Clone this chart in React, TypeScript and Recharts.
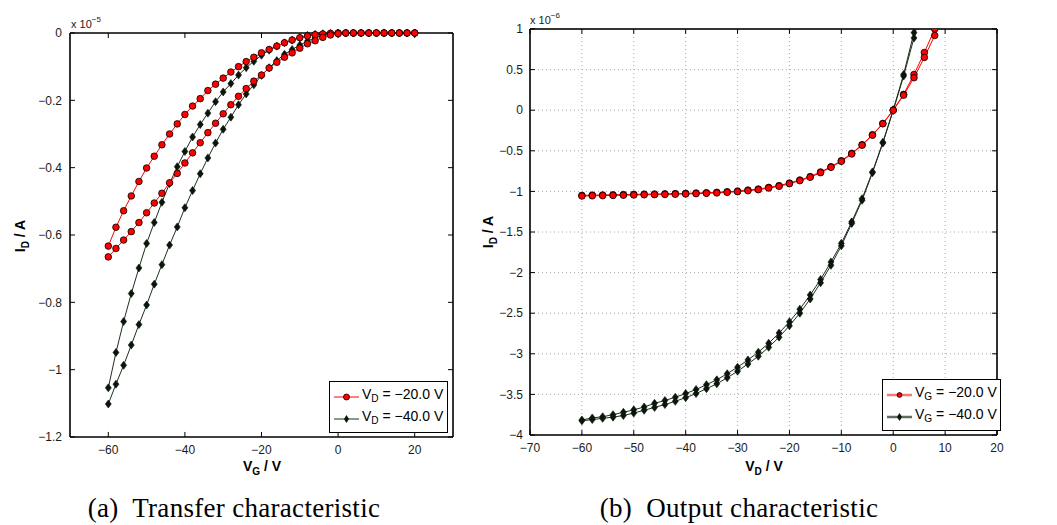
import React from 'react';
import { LineChart, Line, XAxis, YAxis, CartesianGrid, ReferenceLine } from 'recharts';

// (a) transfer characteristic, I_D in units of 1e-5 A, sweep -60 -> 20 -> -60
const vgSweep = [-60, -58, -56, -54, -52, -50, -48, -46, -44, -42, -40, -38, -36, -34, -32, -30, -28, -26, -24, -22, -20, -18, -16, -14, -12, -10, -8, -6, -4, -2, 0, 2, 4, 6, 8, 10, 12, 14, 16, 18, 20];
const transferRedUp = [-0.633, -0.577, -0.528, -0.484, -0.441, -0.401, -0.366, -0.332, -0.3, -0.27, -0.242, -0.217, -0.195, -0.171, -0.152, -0.134, -0.116, -0.1, -0.085, -0.072, -0.059, -0.049, -0.039, -0.029, -0.021, -0.014, -0.009, -0.005, -0.003, -0.001, 0, 0, 0, 0, 0, 0, 0, 0, 0, 0, 0];
const transferRedDown = [-0.665, -0.64, -0.615, -0.59, -0.563, -0.534, -0.505, -0.476, -0.445, -0.417, -0.386, -0.356, -0.326, -0.296, -0.268, -0.24, -0.213, -0.188, -0.165, -0.143, -0.125, -0.104, -0.087, -0.072, -0.059, -0.045, -0.032, -0.023, -0.013, -0.006, -0.002, 0, 0, 0, 0, 0, 0, 0, 0, 0, 0];
const transferBlackUp = [-1.054, -0.949, -0.857, -0.774, -0.698, -0.625, -0.563, -0.503, -0.447, -0.397, -0.352, -0.309, -0.272, -0.238, -0.204, -0.175, -0.15, -0.125, -0.103, -0.084, -0.066, -0.051, -0.039, -0.029, -0.021, -0.014, -0.007, -0.004, -0.002, -0.001, 0, 0, 0, 0, 0, 0, 0, 0, 0, 0, 0];
const transferBlackDown = [-1.102, -1.043, -0.987, -0.927, -0.866, -0.808, -0.746, -0.688, -0.63, -0.576, -0.519, -0.468, -0.418, -0.371, -0.327, -0.286, -0.25, -0.213, -0.181, -0.154, -0.126, -0.103, -0.082, -0.063, -0.049, -0.036, -0.024, -0.014, -0.007, -0.003, -0.001, 0, 0, 0, 0, 0, 0, 0, 0, 0, 0];
const transferXDomain = [-70, 30];
const transferYDomain = [-1.2, 0];
const transferXTicks = [-60, -40, -20, 0, 20];
const transferYTicks = [-1.2, -1, -0.8, -0.6, -0.4, -0.2, 0];

// (b) output characteristic, I_D in units of 1e-6 A
const vdSweepRed = [-60, -58, -56, -54, -52, -50, -48, -46, -44, -42, -40, -38, -36, -34, -32, -30, -28, -26, -24, -22, -20, -18, -16, -14, -12, -10, -8, -6, -4, -2, 0, 2, 4, 6, 8, 10];
const outputRedUp = [-1.049, -1.046, -1.044, -1.042, -1.039, -1.036, -1.034, -1.032, -1.03, -1.027, -1.024, -1.02, -1.016, -1.011, -1.004, -0.996, -0.984, -0.971, -0.951, -0.929, -0.897, -0.86, -0.818, -0.761, -0.696, -0.622, -0.531, -0.425, -0.302, -0.163, 0.002, 0.195, 0.44, 0.71, 1.0, 1.32];
const outputRedDown = [-1.057, -1.054, -1.052, -1.05, -1.047, -1.044, -1.042, -1.04, -1.038, -1.035, -1.032, -1.028, -1.024, -1.019, -1.012, -1.004, -0.992, -0.979, -0.959, -0.937, -0.905, -0.868, -0.826, -0.769, -0.704, -0.63, -0.539, -0.431, -0.308, -0.167, -0.002, 0.185, 0.4, 0.65, 0.92, 1.2];
const vdSweepBlack = [-60, -58, -56, -54, -52, -50, -48, -46, -44, -42, -40, -38, -36, -34, -32, -30, -28, -26, -24, -22, -20, -18, -16, -14, -12, -10, -8, -6, -4, -2, 0, 2, 4, 6];
const outputBlackUp = [-3.815, -3.79, -3.775, -3.75, -3.72, -3.69, -3.655, -3.61, -3.575, -3.535, -3.49, -3.44, -3.38, -3.32, -3.245, -3.165, -3.075, -2.98, -2.87, -2.745, -2.605, -2.45, -2.275, -2.085, -1.87, -1.64, -1.375, -1.09, -0.76, -0.395, 0.005, 0.44, 0.955, 1.48];
const outputBlackDown = [-3.825, -3.81, -3.795, -3.78, -3.76, -3.73, -3.695, -3.66, -3.625, -3.585, -3.54, -3.49, -3.43, -3.37, -3.295, -3.215, -3.125, -3.03, -2.92, -2.795, -2.655, -2.5, -2.325, -2.125, -1.91, -1.67, -1.395, -1.11, -0.77, -0.405, -0.005, 0.42, 0.89, 1.42];
const outputXDomain = [-70, 20];
const outputYDomain = [-4, 1];
const outputXTicks = [-70, -60, -50, -40, -30, -20, -10, 0, 10, 20];
const outputYTicks = [-4, -3.5, -3, -2.5, -2, -1.5, -1, -0.5, 0, 0.5, 1];

const RED = '#ff0000';
const DARK = '#1d301d';
const FONT = "'Liberation Sans', Arial, sans-serif";

// forward sweep then back again, so the line closes the hysteresis loop
const loop = (xs: number[], up: number[], down: number[]) => [
  ...xs.map((x, i) => ({ x, y: up[i] })),
  ...xs.map((x, i) => ({ x, y: down[i] })).reverse(),
];

const fmt = (v: number) => (v < 0 ? '\u2212' + Math.abs(v) : String(v));

const circleDot = (p: any) => (
  <circle key={'c' + p.index} cx={p.cx} cy={p.cy} r={3.3} fill={RED} stroke="#000" strokeWidth={0.8} />
);
const diamondDot = (p: any) => (
  <path
    key={'d' + p.index}
    d={`M${p.cx},${p.cy - 4}L${p.cx + 3},${p.cy}L${p.cx},${p.cy + 4}L${p.cx - 3},${p.cy}Z`}
    fill="#0b160b"
    stroke="#0b160b"
    strokeWidth={0.6}
  />
);

const tickStyle = { fill: '#1a1a1a', fontSize: 12, fontFamily: FONT };

// box around the plot plus inward tick marks on all four sides (matlab style)
function frame(xd: number[], yd: number[], xt: number[], yt: number[], dx: number, dy: number, top = '#000', topW = 1.6) {
  const ids = { xAxisId: 'x', yAxisId: 'y', ifOverflow: 'visible' as const };
  const marks: any[] = [
    <ReferenceLine key="fl" {...ids} x={xd[0]} stroke="#000" strokeWidth={1.6} />,
    <ReferenceLine key="fr" {...ids} x={xd[1]} stroke="#000" strokeWidth={1.6} />,
    <ReferenceLine key="fb" {...ids} y={yd[0]} stroke="#000" strokeWidth={1.6} />,
    <ReferenceLine key="ft" {...ids} y={yd[1]} stroke={top} strokeWidth={topW} />,
  ];
  xt.forEach((t) => {
    marks.push(<ReferenceLine key={'xb' + t} {...ids} segment={[{ x: t, y: yd[0] }, { x: t, y: yd[0] + dy }]} stroke="#000" />);
    marks.push(<ReferenceLine key={'xt' + t} {...ids} segment={[{ x: t, y: yd[1] }, { x: t, y: yd[1] - dy }]} stroke="#000" />);
  });
  yt.forEach((t) => {
    marks.push(<ReferenceLine key={'yl' + t} {...ids} segment={[{ x: xd[0], y: t }, { x: xd[0] + dx, y: t }]} stroke="#000" />);
    marks.push(<ReferenceLine key={'yr' + t} {...ids} segment={[{ x: xd[1], y: t }, { x: xd[1] - dx, y: t }]} stroke="#000" />);
  });
  return marks;
}

function Sub({ children }: any) {
  return <span style={{ fontSize: '0.72em', position: 'relative', top: '0.35em' }}>{children}</span>;
}

function Exponent({ left, top, exp }: any) {
  return (
    <div style={{ position: 'absolute', left, top, fontSize: 11, lineHeight: 1, color: '#1a1a1a' }}>
      x 10<span style={{ fontSize: 8, position: 'relative', top: -6 }}>{'\u2212' + exp}</span>
    </div>
  );
}

function LegendBox({ left, top, sub, faded }: any) {
  const rows = [
    { value: '\u221220.0', color: faded ? '#f27a7a' : RED, marker: 'circle' },
    { value: '\u221240.0', color: faded ? '#5f6e5f' : DARK, marker: 'diamond' },
  ];
  return (
    <div
      style={{
        position: 'absolute', left, top, width: 119, height: 52, background: '#fff',
        border: '1.3px solid #000', boxSizing: 'border-box', padding: '4px 0 0 4px',
      }}
    >
      {rows.map((r) => (
        <div key={r.value} style={{ display: 'flex', alignItems: 'center', height: 22, fontSize: 14, lineHeight: 1, whiteSpace: 'nowrap' }}>
          <svg width={25} height={14} style={{ marginRight: 3, flex: 'none' }}>
            <line x1={0} y1={7} x2={25} y2={7} stroke={r.color} strokeWidth={faded ? 2.5 : 1} />
            {r.marker === 'circle' ? (
              <circle cx={12.5} cy={7} r={faded ? 2.4 : 3} fill={RED} stroke="#000" strokeWidth={0.8} />
            ) : (
              <path d="M12.5,3L15,7L12.5,11L10,7Z" fill="#0b160b" />
            )}
          </svg>
          <span style={{ position: 'relative', top: -3 }}>
            V<Sub>{sub}</Sub> = {r.value} V
          </span>
        </div>
      ))}
    </div>
  );
}

function TransferChart() {
  return (
    <LineChart width={470} height={480} margin={{ top: 33, right: 17, bottom: 13, left: 30 }}>
      <XAxis xAxisId="x" type="number" dataKey="x" domain={transferXDomain} ticks={transferXTicks} tickFormatter={fmt}
        axisLine={false} tickLine={false} tickSize={0} tickMargin={8} height={30} tick={tickStyle} />
      <YAxis yAxisId="y" type="number" domain={transferYDomain} ticks={transferYTicks} tickFormatter={fmt}
        axisLine={false} tickLine={false} tickSize={0} tickMargin={8} width={40} tick={tickStyle} />
      {frame(transferXDomain, transferYDomain, transferXTicks, transferYTicks, 1.3, 0.015)}
      <Line xAxisId="x" yAxisId="y" data={loop(vgSweep, transferBlackUp, transferBlackDown)} dataKey="y"
        type="linear" stroke={DARK} strokeWidth={1} dot={diamondDot} isAnimationActive={false} />
      <Line xAxisId="x" yAxisId="y" data={loop(vgSweep, transferRedUp, transferRedDown)} dataKey="y"
        type="linear" stroke={RED} strokeWidth={1} dot={circleDot} isAnimationActive={false} />
    </LineChart>
  );
}

function OutputChart() {
  return (
    <LineChart width={577} height={480} margin={{ top: 29, right: 60, bottom: 15, left: 10 }}>
      <CartesianGrid xAxisId="x" yAxisId="y" stroke="#a8a8a8" strokeDasharray="1 3" />
      <XAxis xAxisId="x" type="number" dataKey="x" domain={outputXDomain} ticks={outputXTicks} tickFormatter={fmt}
        axisLine={false} tickLine={false} tickSize={0} tickMargin={8} height={30} tick={tickStyle} allowDataOverflow />
      <YAxis yAxisId="y" type="number" domain={outputYDomain} ticks={outputYTicks} tickFormatter={fmt}
        axisLine={false} tickLine={false} tickSize={0} tickMargin={7} width={40} tick={tickStyle} allowDataOverflow />
      {frame(outputXDomain, outputYDomain, outputXTicks, outputYTicks, 0.95, 0.06, '#333', 2)}
      <Line xAxisId="x" yAxisId="y" data={loop(vdSweepBlack, outputBlackUp, outputBlackDown)} dataKey="y"
        type="linear" stroke={DARK} strokeWidth={1} dot={diamondDot} isAnimationActive={false} />
      <Line xAxisId="x" yAxisId="y" data={loop(vdSweepRed, outputRedUp, outputRedDown)} dataKey="y"
        type="linear" stroke={RED} strokeWidth={1} dot={circleDot} isAnimationActive={false} />
    </LineChart>
  );
}

const axisTitle = { position: 'absolute' as const, fontWeight: 'bold' as const, fontSize: 14, lineHeight: 1, whiteSpace: 'nowrap' as const, color: '#000' };
const caption = { position: 'absolute' as const, top: 495, fontFamily: "'Liberation Serif', 'DejaVu Serif', serif", fontSize: 27, letterSpacing: 0.3, lineHeight: 1, transform: 'translateX(-50%)', whiteSpace: 'nowrap' as const };

export default function App() {
  return (
    <div style={{ position: 'absolute', left: 0, top: 0, width: 1057, height: 525, background: '#fff', fontFamily: FONT, overflow: 'hidden' }}>
      <div style={{ position: 'absolute', left: 0, top: 0 }}>
        <TransferChart />
      </div>
      <div style={{ position: 'absolute', left: 480, top: 0 }}>
        <OutputChart />
      </div>

      <Exponent left={71} top={19} exp="5" />
      <Exponent left={530} top={15} exp="6" />

      <div style={{ ...axisTitle, left: 20, top: 236, transform: 'translate(-50%, -50%) rotate(-90deg)' }}>
        I<Sub>D</Sub> / A
      </div>
      <div style={{ ...axisTitle, left: 488, top: 232, transform: 'translate(-50%, -50%) rotate(-90deg)' }}>
        I<Sub>D</Sub> / A
      </div>
      <div style={{ ...axisTitle, left: 262, top: 459, transform: 'translateX(-50%)' }}>
        V<Sub>G</Sub> / V
      </div>
      <div style={{ ...axisTitle, left: 764, top: 459, transform: 'translateX(-50%)' }}>
        V<Sub>D</Sub> / V
      </div>

      <LegendBox left={329} top={381} sub="D" />
      <LegendBox left={882} top={379} sub="G" faded />

      <div style={{ ...caption, left: 234 }}>(a)&nbsp; Transfer characteristic</div>
      <div style={{ ...caption, left: 739 }}>(b)&nbsp; Output characteristic</div>
    </div>
  );
}
